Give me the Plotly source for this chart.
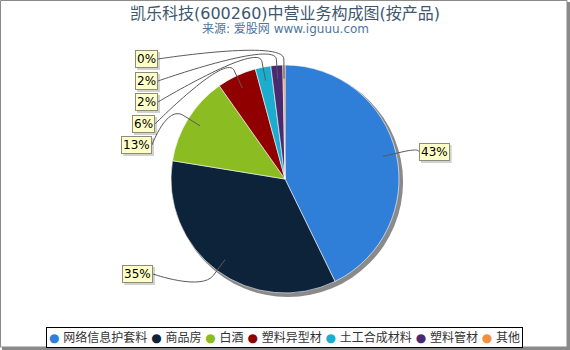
import math
import plotly.graph_objects as go

# ---------------- data ----------------
categories = ["网络信息护套料", "商品房", "白酒", "塑料异型材", "土工合成材料", "塑料管材", "其他"]
values = [42.9, 34.9, 12.7, 5.6, 2.2, 1.7, 0.3]
colors = ["#2f7ed8", "#0d233a", "#8bbc21", "#910000", "#1aadce", "#492970", "#f28f43"]

title_text = "凯乐科技(600260)中营业务构成图(按产品)"
subtitle_text = "来源: 爱股网 www.iguuu.com"

# ---------------- layout constants (pixels) ----------------
W, H = 570, 350
CX, CY, R = 285, 179, 114
# point where each connector leaves its label box, and label side
label_anchor = [(419, 152, "right"), (153, 274, "left"), (152, 145, "left"),
                (155, 124, "left"), (158, 102, "left"), (158, 81, "left"), (158, 59, "left")]

FONT = "DejaVu Sans, Noto Sans CJK SC, sans-serif"


def px(x):
    return x / W


def py(y):
    return 1 - y / H


total = sum(values)
pcts = [round(v / total * 100) for v in values]

fig = go.Figure()

# shadow pie
SR = R + 1
SX, SY = CX + 3, CY + 3
fig.add_trace(go.Pie(
    values=[1], labels=["shadow"], marker=dict(colors=["#8a8a8a"]),
    domain=dict(x=[px(SX - SR), px(SX + SR)], y=[py(SY + SR), py(SY - SR)]),
    textinfo="none", hoverinfo="skip", showlegend=False, sort=False,
))

fig.add_trace(go.Pie(
    values=values, labels=categories,
    marker=dict(colors=colors, line=dict(color="white", width=0.6)),
    domain=dict(x=[px(CX - R), px(CX + R)], y=[py(CY + R), py(CY - R)]),
    textinfo="none", sort=False, direction="clockwise", rotation=0,
    showlegend=False, hoverinfo="label+percent",
))

shapes = []
annotations = []

# connectors + labels
cum = 0.0
for i, v in enumerate(values):
    mid = (cum + v / 2) / total
    cum += v
    ang = mid * 2 * math.pi
    sx, sy = math.sin(ang), -math.cos(ang)
    P = (CX + 0.88 * R * sx, CY + 0.88 * R * sy)
    B = (CX + (R + 6) * sx, CY + (R + 6) * sy)
    C2 = (2 * B[0] - P[0], 2 * B[1] - P[1])
    ax, ay, side = label_anchor[i]
    path = (f"M {px(ax)},{py(ay)} C {px(ax)},{py(ay)} {px(C2[0])},{py(C2[1])} "
            f"{px(B[0])},{py(B[1])} L {px(P[0])},{py(P[1])}")
    shapes.append(dict(type="path", path=path, xref="paper", yref="paper",
                       line=dict(color="#5a5a5a", width=1)))
    xanchor = "left" if side == "right" else "right"
    txt = f"{pcts[i]}%"
    # label shadow (approximate box size from character widths)
    bw = (len(txt) - 1) * 7.63 + 11.4 + 4
    bh = 18
    if side == "right":
        bx0, bx1 = ax, ax + bw
    else:
        bx0, bx1 = ax - bw, ax
    shapes.append(dict(type="rect", xref="paper", yref="paper",
                       x0=px(bx0 + 2), x1=px(bx1 + 2), y0=py(ay + bh / 2 + 2), y1=py(ay - bh / 2 + 2),
                       line=dict(width=0), fillcolor="rgba(0,0,0,0.18)", layer="above"))
    annotations.append(dict(
        x=px(ax), y=py(ay), xref="paper", yref="paper", text=txt, showarrow=False,
        xanchor=xanchor, yanchor="middle",
        font=dict(family=FONT, size=12, color="#000000"),
        bgcolor="#ffffc8", bordercolor="#8c8c7c", borderwidth=1, borderpad=1,
    ))

# title / subtitle
annotations.append(dict(x=0.5, y=py(13), xref="paper", yref="paper", text=title_text,
                        showarrow=False, xanchor="center", yanchor="middle",
                        font=dict(family=FONT, size=16, color="#3e576f")))
annotations.append(dict(x=0.5, y=py(29), xref="paper", yref="paper", text=subtitle_text,
                        showarrow=False, xanchor="center", yanchor="middle",
                        font=dict(family=FONT, size=12, color="#4d759e")))

# legend (built as one boxed line of text)
sp = "\u00a0"
items = [f"<span style='color:{c}'>●</span>{sp}{name}" for name, c in zip(categories, colors)]
legend_text = sp.join(items)
annotations.append(dict(x=px(284.5), y=py(337), xref="paper", yref="paper", text=legend_text,
                        showarrow=False, xanchor="center", yanchor="middle",
                        font=dict(family=FONT, size=12, color="#333333"),
                        bgcolor="white", bordercolor="#000000", borderwidth=1, borderpad=2))

# outer frame
shapes.append(dict(type="rect", xref="paper", yref="paper", x0=px(0.5), y0=py(347), x1=px(567), y1=py(0.5),
                   line=dict(color="#8a8a8a", width=1), layer="below"))
shapes.append(dict(type="rect", xref="paper", yref="paper", x0=px(567), y0=py(350), x1=px(570), y1=py(2),
                   line=dict(width=0), fillcolor="#8a8a8a"))
shapes.append(dict(type="rect", xref="paper", yref="paper", x0=px(2), y0=py(350), x1=px(570), y1=py(347),
                   line=dict(width=0), fillcolor="#8a8a8a"))

fig.update_layout(
    width=W, height=H, autosize=False,
    margin=dict(l=0, r=0, t=0, b=0),
    paper_bgcolor="white", plot_bgcolor="white",
    shapes=shapes, annotations=annotations,
    showlegend=False,
)

fig.write_html("out.html")
